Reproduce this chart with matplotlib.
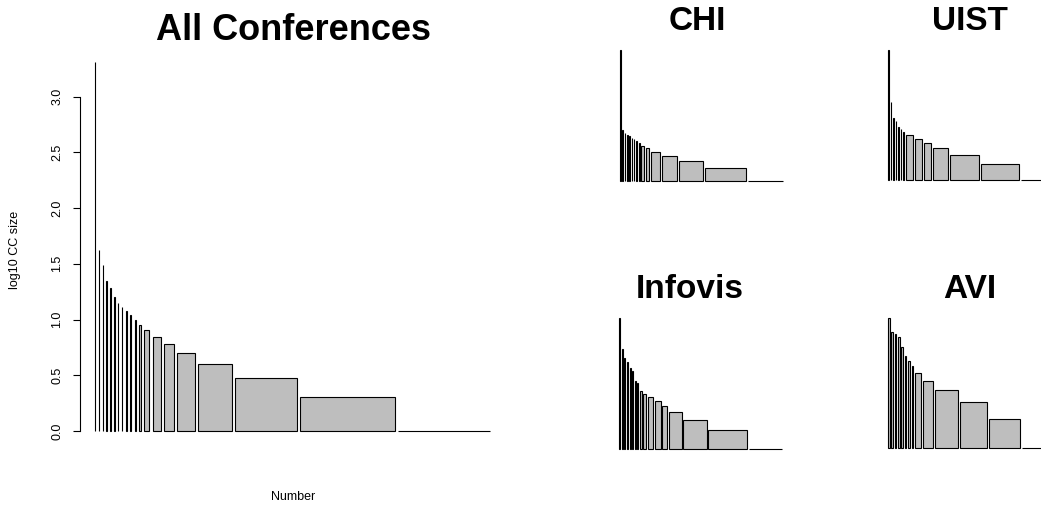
import numpy as np
import matplotlib.pyplot as plt

plt.rcParams['font.family'] = ['Liberation Sans', 'DejaVu Sans']

# component sizes (one bar per distinct size) and bar widths
all_sizes = [2040, 42, 31, 22, 19, 16, 14, 13, 12, 11, 10, 9, 8, 7, 6, 5, 4, 3, 2, 1]
all_widths = [0.5, 0.5, 0.5, 0.5, 0.5, 0.5, 0.5, 0.5, 1.1, 1.3, 1.4, 1.7,
              5.0, 8.4, 9.7, 17.4, 34, 61.7, 94.4, 92.3]

chi_sizes = [1450, 17, 14, 13, 12, 11, 10, 9, 8, 7, 6, 5, 4, 3, 2, 1]
chi_widths = [0.6, 0.6, 0.6, 0.6, 0.6, 0.6, 0.6, 0.6, 1.2, 2.5, 3.8, 9, 15.5, 24, 41.5, 36]

uist_sizes = [284, 30, 15, 13, 10, 9, 8, 7, 6, 5, 4, 3, 2, 1]
uist_widths = [0.7, 0.7, 0.7, 0.7, 0.7, 0.7, 0.7, 7, 7.3, 6.7, 15.3, 28.3, 37.7, 19]

infovis_sizes = [141, 43, 31, 27, 21, 19, 13, 12, 9, 8, 7, 6, 5, 4, 3, 2, 1]
infovis_widths = [1, 1, 1, 1, 1, 1, 1, 1, 2, 2.7, 5.7, 6, 5.3, 13.3, 24.3, 40.3, 34]

avi_sizes = [22, 16, 15, 14, 11, 9, 8, 7, 6, 5, 4, 3, 2, 1]
avi_widths = [1.5, 1.5, 1.5, 1.5, 1.5, 1.5, 1.5, 1.5, 6, 10, 22.7, 26.3, 30.7, 18.7]

W, H = 1041, 508
fig = plt.figure(figsize=(W / 100, H / 100), dpi=100)


def panel(box, sizes, widths):
    # box = (x0, x1, top, baseline) in pixels
    x0, x1, top, base = box
    ax = fig.add_axes([x0 / W, (H - base) / H, (x1 - x0) / W, (base - top) / H])
    heights = np.log10(sizes)
    widths = np.array(widths, dtype=float)
    gap = 0.2 * widths.mean()
    lefts = gap + np.concatenate([[0], np.cumsum(widths + gap)[:-1]])
    ax.bar(lefts, heights, width=widths, align='edge', color='#bebebe',
           edgecolor='black', linewidth=0.8, clip_on=False)
    ax.set_xlim(lefts[0], lefts[-1] + widths[-1])
    ax.set_ylim(0, heights.max())
    for s in ax.spines.values():
        s.set_visible(False)
    ax.set_xticks([])
    ax.set_yticks([])
    return ax


ax = panel((95, 490, 62, 431), all_sizes, all_widths)
ax.spines['left'].set_visible(True)
ax.spines['left'].set_position(('outward', 10.8))
ax.spines['left'].set_bounds(0, 3)
ax.spines['left'].set_linewidth(0.8)
ax.set_yticks(np.arange(0, 3.01, 0.5))
ax.set_yticklabels(['0.0', '0.5', '1.0', '1.5', '2.0', '2.5', '3.0'],
                   rotation=90, va='center', fontsize=9)
ax.tick_params(axis='y', length=5, width=0.8, pad=7)

panel((620, 783.3, 50, 180.5), chi_sizes, chi_widths)
panel((888, 1040.7, 50, 180), uist_sizes, uist_widths)
panel((619.3, 781.7, 318, 448.5), infovis_sizes, infovis_widths)
panel((888, 1040.7, 318.3, 448.3), avi_sizes, avi_widths)

fig.text(293 / W, 1 - 40 / H, 'All Conferences', fontsize=26,
         fontweight='bold', ha='center', va='baseline')
small_kw = dict(fontsize=24, fontweight='bold', ha='center', va='baseline')
fig.text(697 / W, 1 - 30 / H, 'CHI', **small_kw)
fig.text(970 / W, 1 - 30 / H, 'UIST', **small_kw)
fig.text(690 / W, 1 - 298 / H, 'Infovis', **small_kw)
fig.text(970 / W, 1 - 298 / H, 'AVI', **small_kw)

fig.text(293 / W, 1 - 497 / H, 'Number', fontsize=9, ha='center', va='center')
fig.text(15 / W, 1 - 250 / H, 'log10 CC size', fontsize=9, rotation=90,
         ha='center', va='center')

fig.savefig('out.png', dpi=100)
